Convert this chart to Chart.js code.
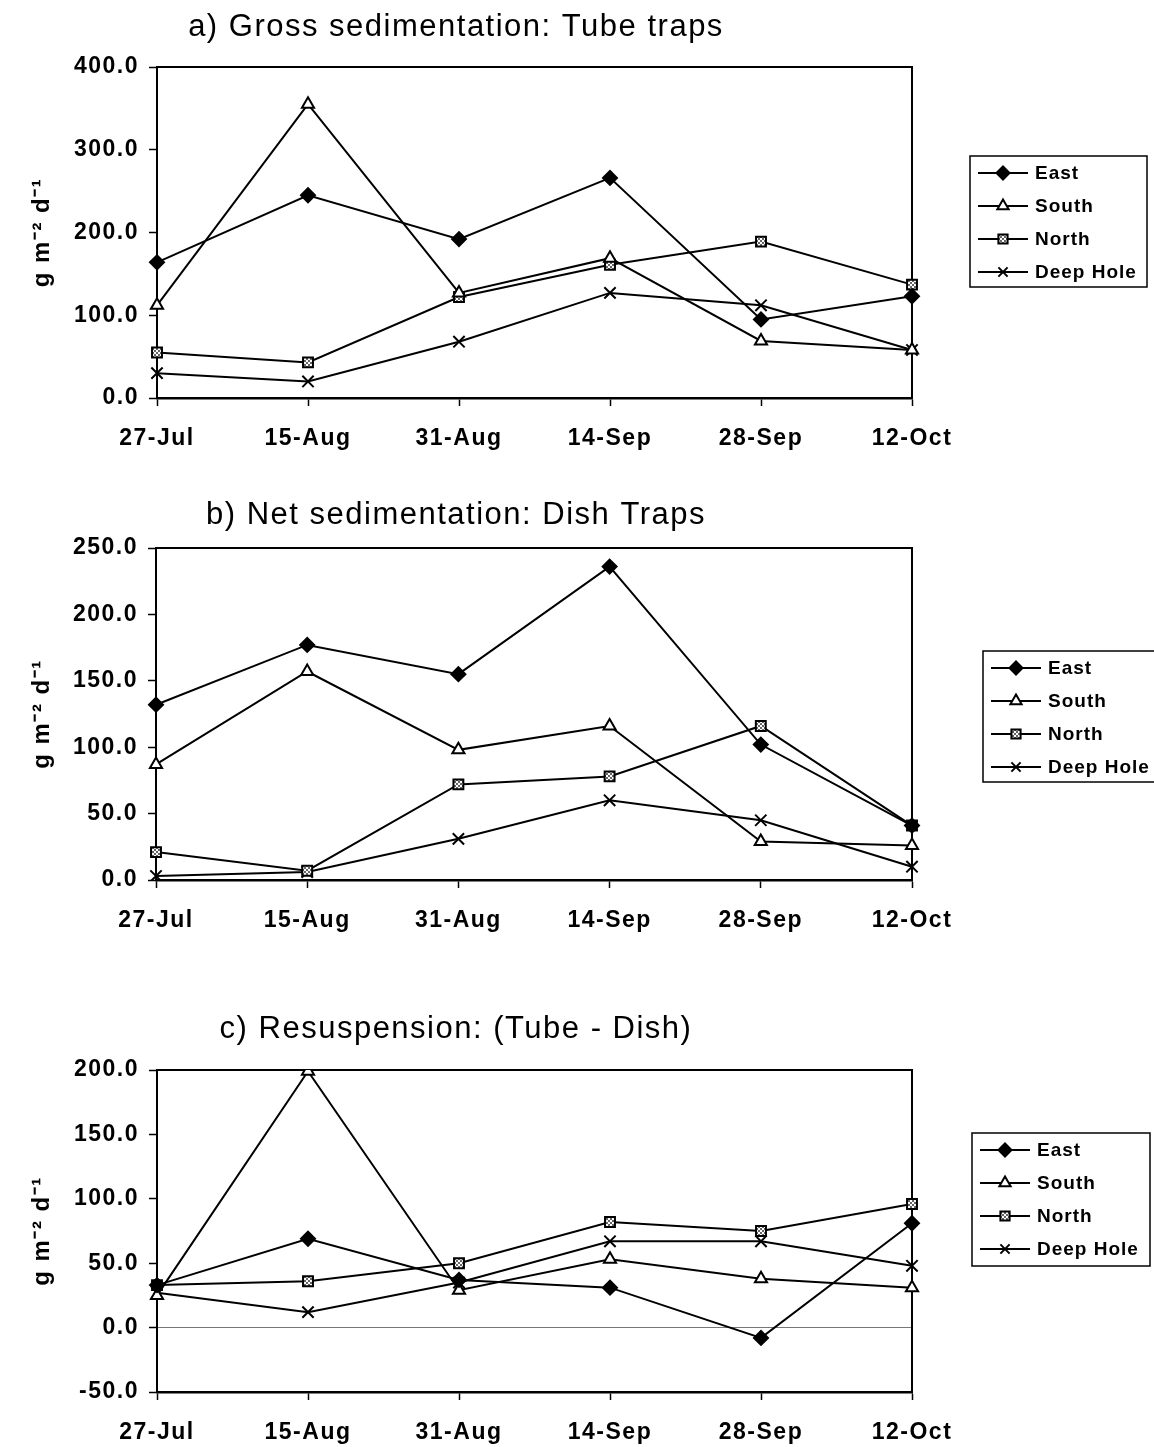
<!DOCTYPE html>
<html>
<head>
<meta charset="utf-8">
<title>Sedimentation</title>
<script src="https://cdn.jsdelivr.net/npm/chart.js@4.4.1/dist/chart.umd.min.js"></script>
<style>
  body { margin: 0; background: #fff; width: 1154px; height: 1447px; position: relative; overflow: hidden; }
  canvas { position: absolute; left: 0; }
</style>
</head>
<body>
<canvas id="chartA" width="1154" height="462" style="top:0px"></canvas>
<canvas id="chartB" width="1154" height="457" style="top:487px"></canvas>
<canvas id="chartC" width="1154" height="472" style="top:980px"></canvas>
<script>
"use strict";

// sampling dates
const dates = ["27-Jul", "15-Aug", "31-Aug", "14-Sep", "28-Sep", "12-Oct"];
const stations = ["East", "South", "North", "Deep Hole"];

// a) gross sedimentation, tube traps (g m-2 d-1)
const grossEast = [164, 245, 192, 266, 95, 123];
const grossSouth = [112, 355, 127, 169, 69, 58];
const grossNorth = [55, 43, 122, 161, 189, 137];
const grossDeep = [30, 20, 68, 127, 112, 58];

// b) net sedimentation, dish traps
const netEast = [132, 177, 155, 236, 102, 41];
const netSouth = [87, 157, 98, 116, 29, 26];
const netNorth = [21, 7, 72, 78, 116, 41];
const netDeep = [3, 6, 31, 60, 45, 10];

// c) resuspension (tube - dish)
const resEast = [33, 69, 37, 31, -8, 81];
const resSouth = [25, 199, 29, 53, 38, 31];
const resNorth = [33, 36, 50, 82, 75, 96];
const resDeep = [27, 12, 35, 67, 67, 48];

const FONT = "'Liberation Sans', Arial, sans-serif";

// little checker fill for the North squares
function checker() {
  const c = document.createElement("canvas");
  c.width = 4; c.height = 4;
  const g = c.getContext("2d");
  g.fillStyle = "#fff"; g.fillRect(0, 0, 4, 4);
  g.fillStyle = "#666";
  g.fillRect(0, 0, 2, 2); g.fillRect(2, 2, 2, 2);
  return g.createPattern(c, "repeat");
}
const northFill = checker();

const markers = [
  { pointStyle: "rectRot", pointRadius: 7, backgroundColor: "#000" },
  { pointStyle: "triangle", pointRadius: 7, backgroundColor: "#fff" },
  { pointStyle: "rect", pointRadius: 7, backgroundColor: northFill },
  { pointStyle: "crossRot", pointRadius: 8, backgroundColor: "#000" }
];

function makeDatasets(lists) {
  return lists.map((vals, i) => ({
    label: stations[i],
    data: vals,
    borderColor: "#000",
    borderWidth: 2,
    tension: 0,
    pointBorderColor: "#000",
    pointBorderWidth: 2,
    pointStyle: markers[i].pointStyle,
    pointRadius: markers[i].pointRadius,
    pointBackgroundColor: markers[i].backgroundColor
  }));
}

// the scanned figure has wide-set lettering
const spacingPlugin = {
  id: "spacing",
  beforeUpdate(chart) { chart.ctx.letterSpacing = "1.5px"; },
  beforeDraw(chart) { chart.ctx.letterSpacing = "1.5px"; }
};

// frame on top + right and the boxed legend on the right
const framePlugin = {
  id: "frameLegend",
  beforeDatasetsDraw(chart) {
    const { ctx, chartArea: a } = chart;
    ctx.save();
    ctx.strokeStyle = "#000";
    ctx.lineWidth = 2;
    ctx.beginPath();
    ctx.moveTo(a.left, a.top);
    ctx.lineTo(a.right, a.top);
    ctx.lineTo(a.right, a.bottom);
    ctx.stroke();
    ctx.restore();
  },
  afterDraw(chart, args, opts) {
    const { ctx } = chart;
    const b = opts.box;
    ctx.save();
    ctx.strokeStyle = "#000";
    ctx.lineWidth = 1.5;
    ctx.strokeRect(b.x, b.y, b.w, b.h);
    ctx.font = "bold 19px " + FONT;
    ctx.letterSpacing = "1px";
    ctx.textBaseline = "middle";
    ctx.fillStyle = "#000";
    chart.data.datasets.forEach((ds, i) => {
      const y = b.y + 17 + i * 33;
      const x0 = b.x + 8;
      ctx.lineWidth = 2;
      ctx.beginPath();
      ctx.moveTo(x0, y);
      ctx.lineTo(x0 + 50, y);
      ctx.stroke();
      ctx.fillStyle = ds.pointBackgroundColor;
      Chart.helpers.drawPoint(ctx, { pointStyle: ds.pointStyle, radius: 6.5, rotation: 0, borderWidth: 2 }, x0 + 25, y);
      ctx.fillStyle = "#000";
      ctx.fillText(ds.label, x0 + 57, y + 1);
    });
    ctx.restore();
  }
};

function buildChart(id, title, lists, yMin, yMax, cfg) {
  return new Chart(document.getElementById(id), {
    type: "line",
    data: { labels: dates, datasets: makeDatasets(lists) },
    plugins: [spacingPlugin, framePlugin],
    options: {
      responsive: false,
      animation: false,
      layout: { padding: { left: 0, right: 1154 - 912, top: 0, bottom: cfg.bottom } },
      plugins: {
        legend: { display: false },
        tooltip: { enabled: false },
        title: {
          display: true,
          text: title,
          color: "#000",
          font: { family: FONT, size: 31, weight: "normal", lineHeight: 1.2 },
          padding: { top: cfg.titleTop, bottom: cfg.titleBottom }
        },
        frameLegend: { box: cfg.legend }
      },
      scales: {
        x: {
          offset: false,
          afterFit(scale) { scale.height = 60; },
          grid: { drawOnChartArea: false, tickLength: 8, tickColor: "#000", tickWidth: 1.5 },
          border: { color: "#000", width: 2.5 },
          ticks: { color: "#000", padding: 19, maxRotation: 0, font: { family: FONT, size: 23, weight: "bold" } }
        },
        y: {
          min: yMin,
          max: yMax,
          afterFit(scale) { scale.width = cfg.left; },
          grid: {
            drawOnChartArea: cfg.zeroLine,
            color: ctx => (ctx.tick && ctx.tick.value === 0 && cfg.zeroLine) ? "#777" : "rgba(0,0,0,0)",
            lineWidth: 1,
            tickLength: 8,
            tickColor: "#000",
            tickWidth: 1.5
          },
          border: { color: "#000", width: 2 },
          ticks: {
            stepSize: cfg.step,
            color: "#000",
            padding: 10,
            font: { family: FONT, size: 23, weight: "bold" },
            callback: v => v.toFixed(1)
          },
          title: {
            display: true,
            text: "g m\u207B\u00B2 d\u207B\u00B9",
            color: "#000",
            font: { family: FONT, size: 24, weight: "bold" },
            padding: { top: 28, bottom: 0 }
          }
        }
      }
    }
  });
}

buildChart("chartA", "a) Gross sedimentation: Tube traps",
  [grossEast, grossSouth, grossNorth, grossDeep], 0, 400,
  { left: 157, step: 100, zeroLine: false, titleTop: 9, titleBottom: 20.8, bottom: 4,
    legend: { x: 970, y: 156, w: 177, h: 131 } });

buildChart("chartB", "b) Net sedimentation: Dish Traps",
  [netEast, netSouth, netNorth, netDeep], 0, 250,
  { left: 156, step: 50, zeroLine: false, titleTop: 10, titleBottom: 13.8, bottom: 4,
    legend: { x: 983, y: 164, w: 180, h: 131 } });

buildChart("chartC", "c) Resuspension: (Tube - Dish)",
  [resEast, resSouth, resNorth, resDeep], -50, 200,
  { left: 157, step: 50, zeroLine: true, titleTop: 31, titleBottom: 21.8, bottom: 0,
    legend: { x: 972, y: 153, w: 178, h: 133 } });
</script>
</body>
</html>
